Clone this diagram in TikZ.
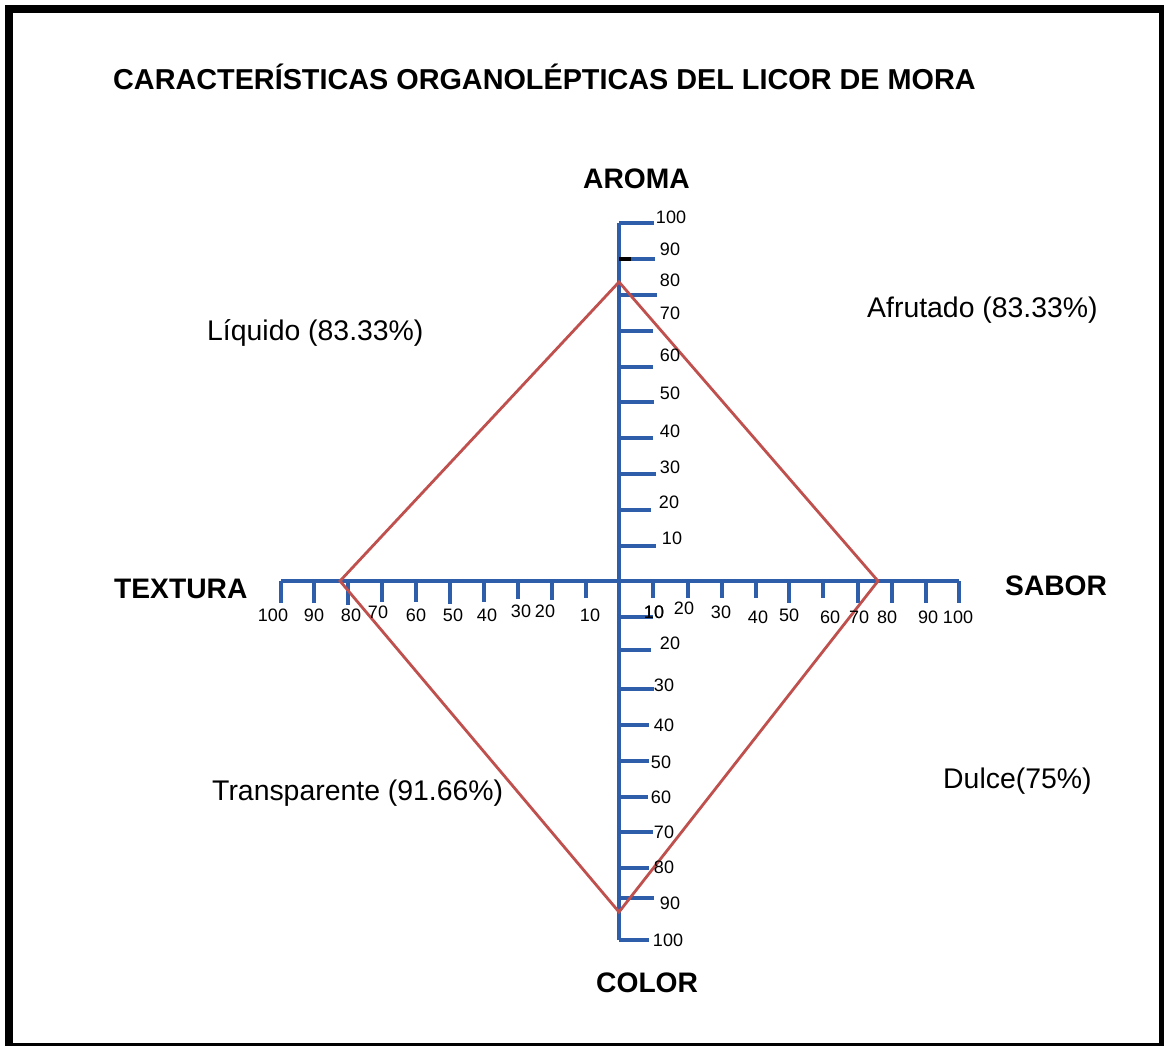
\documentclass[tikz,border=0pt]{standalone}
\usepackage{fontspec}
\setmainfont{Liberation Sans}
\definecolor{axisblue}{RGB}{46,94,170}
\definecolor{diamred}{RGB}{192,80,77}
\begin{document}
\begin{tikzpicture}[x=1pt,y=-1pt,
  bigb/.style={inner sep=0pt,font=\fontsize{28.2}{30}\selectfont\bfseries,anchor=base west},
  titleb/.style={inner sep=0pt,font=\fontsize{28.8}{30}\selectfont\bfseries,anchor=base west},
  lbl/.style={inner sep=0pt,font=\fontsize{28.4}{30}\selectfont,anchor=base west},
  num/.style={inner sep=0pt,font=\fontsize{18}{20}\selectfont,anchor=base},
  axisline/.style={draw=axisblue,line width=3.4pt},
  tickline/.style={draw=axisblue,line width=3.1pt},
  diamline/.style={draw=diamred,line width=2.8pt,line join=miter}]
\useasboundingbox (0,0) rectangle (1164,1046);
\fill[white] (0,0) rectangle (1164,1046);
% frame
\draw[line width=8pt] (9,9) rectangle (1163,1047);

% axes
\coordinate (O) at (619,581);
\coordinate (axTop) at (619,223);
\coordinate (axBot) at (619,940);
\coordinate (axLeft) at (281,581);
\coordinate (axRight) at (959,581);
\draw[axisline] (axTop) -- (axBot);
\draw[axisline] (axLeft) -- (axRight);

% ticks: upper vertical
\foreach \y/\e in {223/654,259/655,295/657,331/653,367/653,402/654,438/653,474/656,510/651,546/656}
  \draw[tickline] (619,\y) -- (\e,\y);
\draw[line width=3.1pt] (619,259) -- (631,259);
% ticks: lower vertical
\foreach \y/\e in {617/653,650/651,689/654,725/649,761/649,797/648,832/653,868/649,898/654,940/649}
  \draw[tickline] (619,\y) -- (\e,\y);
% ticks: left horizontal
\foreach \x/\e in {281/603,314/603,348/605,382/602,416/602,450/604,484/602,518/599,552/600,586/598}
  \draw[tickline] (\x,581) -- (\x,\e);
% ticks: right horizontal
\foreach \x/\e in {653/598,688/598,722/598,756/598,789/603,823/598,858/603,892/603,926/603,959/603}
  \draw[tickline] (\x,581) -- (\x,\e);

% diamond
\coordinate (dA) at (619,282);
\coordinate (dS) at (878,581);
\coordinate (dC) at (619,912);
\coordinate (dT) at (340,581);
\draw[diamline] (dA) -- (dS) -- (dC) -- (dT) -- cycle;

% tick labels: upper
\foreach \v/\x/\y [count=\i] in {100/671/217,90/670/249,80/670/280,70/670/313,60/670/355,50/670/393,40/670/431,30/670/467,20/669/502,10/672/538}
  \node[num] (nu\i) at (\x,\y+6.5) {\v};
% lower
\foreach \v/\x/\y [count=\i] in {10/654/612,20/670/643,30/664/685,40/664/725,50/661/762,60/661/797,70/664/832,80/664/867,90/670/903,100/668/940}
  \node[num] (nd\i) at (\x,\y+6.5) {\v};
% left
\foreach \v/\x/\y [count=\i] in {100/273/615,90/314/615,80/351/615,70/378/612,60/416/615,50/453/615,40/487/615,30/521/611,20/545/611,10/590/615}
  \node[num] (nl\i) at (\x,\y+6.5) {\v};
% right
\foreach \v/\x/\y [count=\i] in {10/654/612,20/684/608,30/721/612,40/758/617,50/789/615,60/830/617,70/859/617,80/887/617,90/928/617,100/958/617}
  \node[num] (nr\i) at (\x,\y+6.5) {\v};

% titles
\node[titleb] (title) at (113,90) {CARACTERÍSTICAS ORGANOLÉPTICAS DEL LICOR DE MORA};
\node[bigb] (aroma) at (583,188) {AROMA};
\node[bigb] (sabor) at (1005,595) {SABOR};
\node[bigb] (textura) at (114,598) {TEXTURA};
\node[bigb] (color) at (596,992) {COLOR};

% value labels
\node[lbl] (liq) at (207,340) {Líquido (83.33\%)};
\node[lbl] (afr) at (867,317) {Afrutado (83.33\%)};
\node[lbl] (tra) at (212,800) {Transparente (91.66\%)};
\node[lbl] (dul) at (943,788) {Dulce(75\%)};
\end{tikzpicture}
\end{document}
